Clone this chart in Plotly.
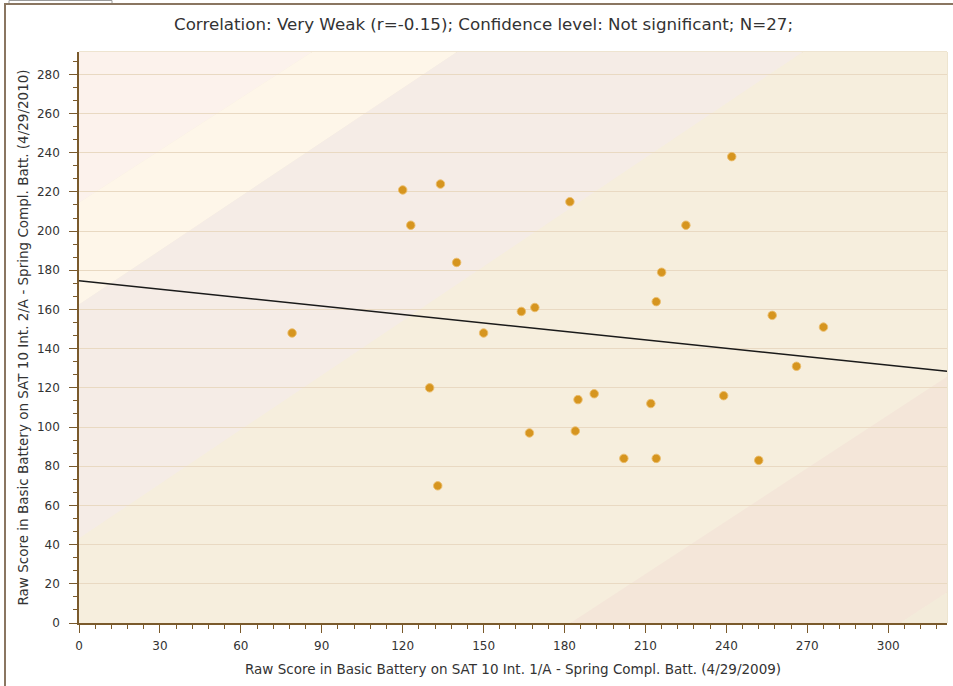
import plotly.graph_objects as go

# ---------------- data ----------------
x_scores = [79, 120, 123, 130, 133, 134, 140, 150, 164, 169, 167, 182, 184, 185,
            191, 202, 212, 214, 214, 216, 225, 239, 242, 252, 257, 266, 276]
y_scores = [148, 221, 203, 120, 70, 224, 184, 148, 159, 161, 97, 215, 98, 114,
            117, 84, 112, 84, 164, 179, 203, 116, 238, 83, 157, 131, 151]

trend_intercept = 174.6
trend_slope = -0.1435

x_ticks = list(range(0, 301, 30))
y_ticks = list(range(0, 281, 20))
x_max = 321.8
y_max = 291.4

title_text = "Correlation: Very Weak (r=-0.15); Confidence level: Not significant; N=27;"
x_title = "Raw Score in Basic Battery on SAT 10 Int. 1/A - Spring Compl. Batt. (4/29/2009)"
y_title = "Raw Score in Basic Battery on SAT 10 Int. 2/A - Spring Compl. Batt. (4/29/2010)"

# ---------------- decoration: diagonal background bands ----------------
band_lines = [(214.5, 0.89), (162.5, 0.92), (43.1, 0.925), (-164.0, 0.90), (-274.0, 0.90)]
band_colors = ["#fcf2ec", "#fef6e9", "#f5ece6", "#f6eedd", "#f4e6d9", "#f3ebda"]

FONT = "DejaVu Sans"
W, H = 953, 686
L, R, T, B = 79, 6, 52, 63
PW, PH = W - L - R, H - T - B


def px(xp):
    return (xp - L) / PW


def py(yp):
    return (H - B - yp) / PH


def clip(poly, a, b, keep_above):
    out = []
    n = len(poly)
    for i in range(n):
        p, q = poly[i], poly[(i + 1) % n]
        sp = p[1] - (a + b * p[0])
        sq = q[1] - (a + b * q[0])
        if not keep_above:
            sp, sq = -sp, -sq
        if sp >= 0:
            out.append(p)
        if (sp >= 0) != (sq >= 0):
            t = sp / (sp - sq)
            out.append((p[0] + t * (q[0] - p[0]), p[1] + t * (q[1] - p[1])))
    return out


rect = [(0, 0), (x_max, 0), (x_max, y_max), (0, y_max)]
shapes = []
for i, col in enumerate(band_colors):
    poly = rect
    if i > 0:
        a, b = band_lines[i - 1]
        poly = clip(poly, a, b, keep_above=False)
    if i < len(band_lines):
        a, b = band_lines[i]
        poly = clip(poly, a, b, keep_above=True)
    if len(poly) < 3:
        continue
    path = "M " + " L ".join(f"{x:.3f},{y:.3f}" for x, y in poly) + " Z"
    shapes.append(dict(type="path", path=path, xref="x", yref="y", layer="below",
                       fillcolor=col, line=dict(width=0)))

# plot-area light border (top/right)
shapes.append(dict(type="rect", xref="paper", yref="paper", x0=0, y0=0, x1=1, y1=1,
                   layer="below", line=dict(color="#dcc9a0", width=1)))
# outer frame
shapes.append(dict(type="path", xref="paper", yref="paper", layer="above",
                   path=f"M {px(5)},{py(H + 5)} L {px(5)},{py(4)} L {px(W + 5)},{py(4)}",
                   line=dict(color="#8a7661", width=2)))
# small tab at top-left
shapes.append(dict(type="path", xref="paper", yref="paper", layer="above",
                   path=f"M {px(9)},{py(3)} L {px(9)},{py(0.5)} L {px(112)},{py(0.5)} L {px(112)},{py(3)}",
                   line=dict(color="#9a9a9a", width=1)))

fig = go.Figure()

fig.add_trace(go.Scatter(
    x=[0, x_max],
    y=[trend_intercept, trend_intercept + trend_slope * x_max],
    mode="lines", line=dict(color="#1a1a1a", width=1.5),
    hoverinfo="skip", showlegend=False))

fig.add_trace(go.Scatter(
    x=x_scores, y=y_scores, mode="markers",
    marker=dict(size=8.5, color="#d6951f", line=dict(color="rgba(235,190,110,0.9)", width=1)),
    showlegend=False))

axis_common = dict(
    showline=True, linecolor="#7a5a2c", linewidth=1.5,
    ticks="outside", ticklen=8, tickwidth=1, tickcolor="#7a5a2c",
    tickfont=dict(family=FONT, size=12, color="#333333"),
    zeroline=False, fixedrange=True,
)

fig.update_xaxes(
    range=[0, x_max], tickvals=x_ticks, showgrid=False,
    minor=dict(ticks="outside", ticklen=4, tickcolor="#7a5a2c", dtick=6, tick0=0, showgrid=False),
    ticklabelstandoff=3, **axis_common)
fig.update_yaxes(
    range=[0, y_max], tickvals=y_ticks, showgrid=True, gridcolor="#e9d9c2", gridwidth=1,
    minor=dict(ticks="outside", ticklen=4, tickcolor="#7a5a2c", dtick=20 / 3, tick0=0, showgrid=False),
    ticklabelstandoff=7, **axis_common)

annotations = [
    dict(text=title_text, xref="paper", yref="paper", x=px(483), y=py(24),
         xanchor="center", yanchor="middle", showarrow=False,
         font=dict(family=FONT, size=16.7, color="#333333")),
    dict(text=x_title, xref="paper", yref="paper", x=px(512.5), y=py(668.5),
         xanchor="center", yanchor="middle", showarrow=False,
         font=dict(family=FONT, size=13.5, color="#333333")),
    dict(text=y_title, xref="paper", yref="paper", x=px(22), y=py(337.5),
         xanchor="center", yanchor="middle", showarrow=False, textangle=-90,
         font=dict(family=FONT, size=13.5, color="#333333")),
]

fig.update_layout(
    width=W, height=H,
    margin=dict(l=L, r=R, t=T, b=B, pad=0),
    paper_bgcolor="white", plot_bgcolor=band_colors[3],
    shapes=shapes, annotations=annotations,
    showlegend=False,
)

fig.write_html("out.html", config={"displayModeBar": False},
               post_script="document.body.style.margin='0px';")
